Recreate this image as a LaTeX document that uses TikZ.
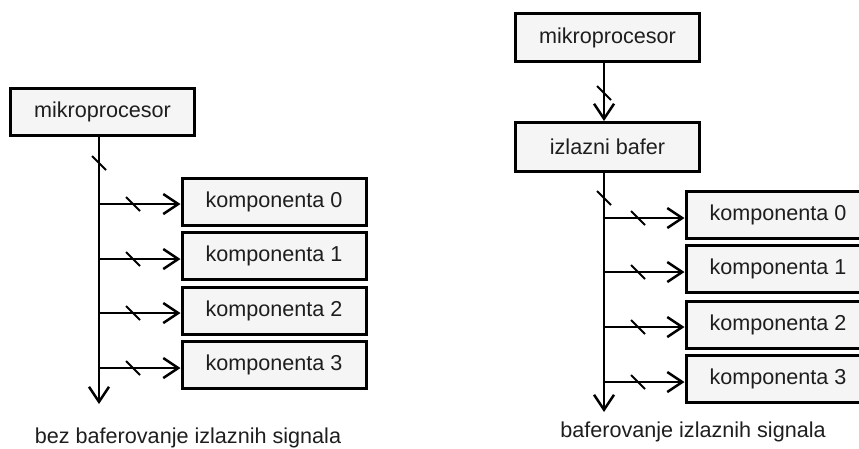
\documentclass[tikz,border=0pt]{standalone}
\usepackage{fontspec}
\setmainfont{Liberation Sans}
\usetikzlibrary{arrows.meta}
\definecolor{boxfill}{HTML}{F5F5F5}
\definecolor{ink}{HTML}{1E1E1E}
\begin{document}
\begin{tikzpicture}[x=1pt,y=-1pt,
  lbl/.style={text=ink, font=\fontsize{21.6}{26}\selectfont},
  blok/.style={lbl, draw=black, line width=3pt, fill=boxfill,
    minimum width=184pt, minimum height=47pt, inner sep=0pt},
  bus/.style={line width=2.3pt, draw=black},
  arr/.style={bus, -{Straight Barb[length=15pt,width=20pt,line width=2.5pt]}},
  busmark/.pic={\draw[line width=2pt] (-7,-7) -- (7,7);}
]
\useasboundingbox (0,0) rectangle (859,448);
\clip (0,0) rectangle (859,448);

% ---- left: outputs driven directly by the processor ----
\node[blok] (mpA) at (102.5,111.5) {mikroprocesor};
\coordinate (busA) at (99,0);
\coordinate (endA) at (99,404);
\draw[arr] (mpA.south -| busA) -- (endA);
\pic at (99,163) {busmark};
\foreach \i/\yc/\yb in {0/201.5/204, 1/255.5/259, 2/310.5/313, 3/364.5/368}{
  \node[blok] (kA\i) at (274,\yc) {komponenta \i};
  \coordinate (jA\i) at (99,\yb);
  \draw[arr] (jA\i) -- (jA\i -| kA\i.west);
  \pic at (133,\yb) {busmark};
}
\node[lbl, anchor=base] (capA) at (188,443) {bez baferovanje izlaznih signala};

% ---- right: outputs driven through an output buffer ----
\node[blok, minimum height=48pt] (mpB) at (607.5,37.5) {mikroprocesor};
\node[blok, minimum height=49pt] (buf) at (607.5,147) {izlazni bafer};
\coordinate (busB) at (604,0);
\coordinate (endB) at (604,412);
\draw[arr] (mpB.south -| busB) -- (buf.north -| busB);
\pic at (604,93) {busmark};
\draw[arr] (buf.south -| busB) -- (endB);
\pic at (604,198) {busmark};
\foreach \i/\yc/\yb in {0/214.5/218, 1/268.5/272, 2/324.5/327, 3/378.5/382}{
  \node[blok] (kB\i) at (778,\yc) {komponenta \i};
  \coordinate (jB\i) at (604,\yb);
  \draw[arr] (jB\i) -- (jB\i -| kB\i.west);
  \pic at (638,\yb) {busmark};
}
\node[lbl, anchor=base] (capB) at (693,437) {baferovanje izlaznih signala};
\end{tikzpicture}
\end{document}
